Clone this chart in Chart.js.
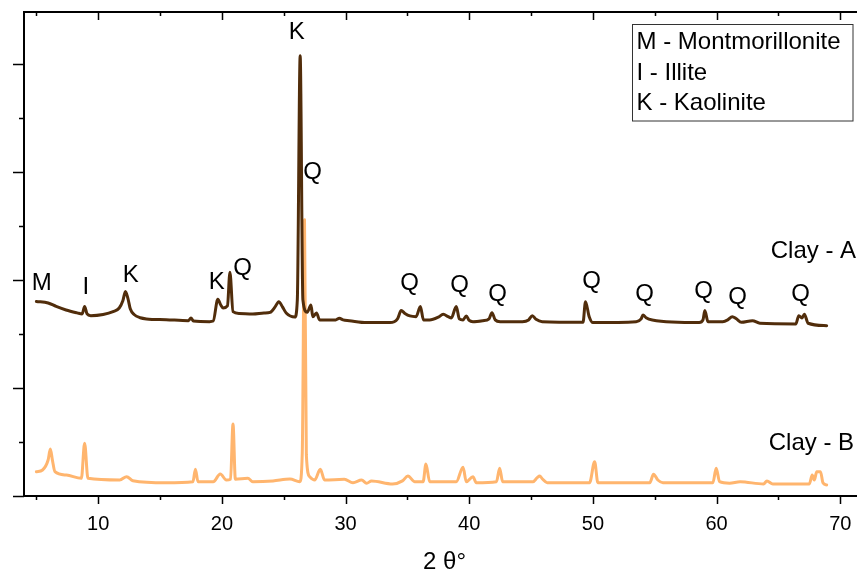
<!DOCTYPE html>
<html>
<head>
<meta charset="utf-8">
<script src="https://cdn.jsdelivr.net/npm/chart.js@4.4.1/dist/chart.umd.min.js"></script>
<style>
  html, body { margin: 0; padding: 0; background: #ffffff; overflow: hidden; }
  #wrap { position: relative; width: 868px; height: 574px; }
</style>
</head>
<body>
<div id="wrap"><canvas id="c"></canvas></div>
<script>
// ---- data (2θ in degrees, intensity in arbitrary offset units) ----
const clayA_x = [5.0,5.95,6.6,7.4,8.3,8.7,8.9,9.1,9.4,10.4,11.2,11.7,12.0,12.2,12.4,12.6,12.9,13.4,13.9,15.5,17.3,17.5,17.7,19.0,19.3,19.67,19.9,20.1,20.45,20.65,20.9,21.4,22.5,23.4,23.9,24.3,24.6,24.9,25.2,25.9,26.1,26.33,26.55,26.9,27.2,27.35,27.65,27.9,29.2,29.5,29.8,30.3,31.7,33.6,34.2,34.5,34.8,35.2,35.7,36.05,36.3,36.8,37.5,37.9,38.3,38.55,38.95,39.2,39.5,39.76,40.0,40.3,41.1,41.6,41.84,42.1,42.5,44.3,44.8,45.1,45.4,45.9,49.2,49.4,49.7,50.0,53.5,53.9,54.05,54.3,54.8,58.6,58.9,59.05,59.3,60.5,60.9,61.27,61.6,62.0,62.9,63.5,66.4,66.65,66.9,67.1,67.4,68.9];
const clayA_y = [1.80,1.787,1.755,1.722,1.695,1.685,1.753,1.685,1.669,1.68,1.706,1.74,1.81,1.892,1.83,1.73,1.68,1.65,1.639,1.632,1.623,1.648,1.62,1.614,1.62,1.821,1.77,1.741,1.76,2.07,1.706,1.69,1.685,1.694,1.70,1.75,1.799,1.75,1.694,1.657,1.815,4.074,1.815,1.70,1.769,1.66,1.694,1.63,1.63,1.645,1.63,1.623,1.605,1.605,1.64,1.716,1.69,1.667,1.66,1.753,1.63,1.63,1.655,1.682,1.66,1.648,1.753,1.64,1.63,1.667,1.625,1.614,1.623,1.64,1.697,1.63,1.614,1.614,1.63,1.669,1.635,1.614,1.608,1.799,1.66,1.605,1.614,1.64,1.676,1.65,1.63,1.605,1.63,1.716,1.614,1.614,1.63,1.66,1.64,1.608,1.623,1.599,1.593,1.669,1.648,1.682,1.599,1.577];

const clayB_x = [5.0,5.5,5.95,6.13,6.3,6.5,7.43,8.64,8.9,9.17,11.74,12.3,12.8,15.5,17.66,17.86,18.07,19.3,19.87,20.36,20.7,20.9,21.09,22.1,22.5,24.13,25.5,26.3,26.5,26.68,26.83,27.1,27.5,27.96,28.3,29.9,30.6,31.3,31.7,32.1,33.8,34.6,35.04,35.6,36.27,36.5,36.8,38.95,39.5,39.76,40.3,40.57,42.2,42.46,42.7,45.15,45.5,45.7,45.9,46.3,49.73,50.14,50.4,54.6,54.9,55.25,55.66,59.7,59.97,60.24,61.05,61.9,63.8,64.07,64.55,67.5,67.73,67.9,68.1,68.4,68.6,68.9];
const clayB_y = [0.225,0.241,0.333,0.435,0.33,0.225,0.194,0.164,0.488,0.164,0.148,0.179,0.142,0.123,0.132,0.247,0.132,0.132,0.204,0.148,0.155,0.667,0.155,0.164,0.132,0.139,0.157,0.132,0.398,2.556,0.380,0.179,0.148,0.247,0.148,0.155,0.123,0.148,0.118,0.139,0.111,0.14,0.185,0.132,0.132,0.296,0.132,0.132,0.266,0.132,0.179,0.123,0.132,0.256,0.132,0.132,0.17,0.185,0.16,0.123,0.123,0.318,0.123,0.123,0.201,0.148,0.123,0.123,0.256,0.132,0.118,0.132,0.111,0.139,0.111,0.111,0.194,0.148,0.225,0.225,0.123,0.102];

const seriesNames = ['Clay - A', 'Clay - B'];
const xTickValues = [5,10,15,20,25,30,35,40,45,50,55,60,65,70];
const xTickLabels = ['', '10', '', '20', '', '30', '', '40', '', '50', '', '60', '', '70'];
const yTickValues = [0,0.5,1,1.5,2,2.5,3,3.5,4];
const legendLines = ['M - Montmorillonite', 'I - Illite', 'K - Kaolinite'];
// phase labels: [text, 2θ, intensity]
const peakLabelText = ['M','I','K','K','Q','K','Q','Q','Q','Q','Q','Q','Q','Q','Q'];
const peakLabelX = [5.43,8.99,12.63,19.58,21.68,26.05,27.34,35.18,39.22,42.29,49.9,54.18,58.95,61.7,66.79];
const peakLabelY = [1.972,1.935,2.046,1.981,2.111,4.287,3.0,1.972,1.954,1.87,1.99,1.87,1.898,1.843,1.87];
const seriesLabelX = [71.28, 71.12];
const seriesLabelY = [2.26, 0.49];

const FONT = 'Liberation Sans, Arial, sans-serif';
const colors = ['#512d0b', '#ffb56e'];

const toPts = (xs, ys) => xs.map((x, i) => ({x: x, y: ys[i]}));

const frame = {
  id: 'frame',
  afterDraw(chart) {
    const ctx = chart.ctx, xs = chart.scales.x, ys = chart.scales.y, a = chart.chartArea;
    ctx.save();
    ctx.strokeStyle = '#000';
    ctx.lineWidth = 2;
    ctx.beginPath();
    ctx.moveTo(a.left - 1, a.top); ctx.lineTo(a.right, a.top);
    ctx.moveTo(a.right, a.top); ctx.lineTo(a.right, a.bottom);
    ctx.stroke();
    ctx.lineWidth = 1.5;
    ctx.beginPath();
    xTickValues.forEach((v, i) => {
      const px = Math.round(xs.getPixelForValue(v)) + 0.5;
      const major = xTickLabels[i] !== '';
      ctx.moveTo(px, a.bottom); ctx.lineTo(px, a.bottom + (major ? 8 : 4));
      ctx.moveTo(px, a.top); ctx.lineTo(px, a.top + (major ? 8 : 4));
    });
    yTickValues.forEach((v) => {
      const py = Math.round(ys.getPixelForValue(v)) + 0.5;
      const major = Number.isInteger(v);
      ctx.moveTo(a.left, py); ctx.lineTo(a.left - (major ? 11 : 5), py);
      ctx.moveTo(a.right, py); ctx.lineTo(a.right - (major ? 8 : 4), py);
    });
    ctx.stroke();

    ctx.fillStyle = '#000';
    ctx.font = '24px ' + FONT;
    ctx.textAlign = 'center';
    ctx.textBaseline = 'middle';
    peakLabelText.forEach((t, i) => {
      ctx.fillText(t, xs.getPixelForValue(peakLabelX[i]), ys.getPixelForValue(peakLabelY[i]));
    });
    ctx.textAlign = 'right';
    seriesNames.forEach((t, i) => {
      ctx.fillText(t, xs.getPixelForValue(seriesLabelX[i]), ys.getPixelForValue(seriesLabelY[i]));
    });

    const bx = a.right - 233, by = a.top + 12, bw = 220.5, bh = 96.5;
    ctx.fillStyle = '#fff';
    ctx.fillRect(bx, by, bw, bh);
    ctx.strokeStyle = '#333';
    ctx.lineWidth = 1;
    ctx.strokeRect(Math.round(bx) + 0.5, Math.round(by) + 0.5, bw, bh);
    ctx.fillStyle = '#000';
    ctx.textAlign = 'left';
    legendLines.forEach((t, i) => {
      ctx.fillText(t, bx + 4.5, by + 18.5 + i * 30.5);
    });
    ctx.restore();
  }
};

new Chart(document.getElementById('c'), {
  type: 'line',
  data: {
    datasets: [
      { label: seriesNames[0], data: toPts(clayA_x, clayA_y), borderColor: colors[0], borderWidth: 3, pointRadius: 0, cubicInterpolationMode: 'monotone', borderJoinStyle: 'round', borderCapStyle: 'round', fill: false },
      { label: seriesNames[1], data: toPts(clayB_x, clayB_y), borderColor: colors[1], borderWidth: 3, pointRadius: 0, cubicInterpolationMode: 'monotone', borderJoinStyle: 'round', borderCapStyle: 'round', fill: false }
    ]
  },
  options: {
    responsive: true,
    maintainAspectRatio: false,
    animation: false,
    layout: { padding: { top: 12, right: 3, left: 0, bottom: 0 } },
    plugins: { legend: { display: false }, tooltip: { enabled: false } },
    scales: {
      x: {
        type: 'linear', min: 4, max: 72,
        afterBuildTicks: s => { s.ticks = xTickValues.map(v => ({ value: v })); },
        afterFit: s => { s.height = 78; },
        grid: { display: false },
        border: { display: true, color: '#000', width: 2 },
        ticks: {
          color: '#000', font: { family: FONT, size: 20 }, padding: 8, maxRotation: 0, autoSkip: false,
          callback: (v, i) => xTickLabels[i]
        },
        title: { display: true, text: '2 θ°', color: '#000', font: { family: FONT, size: 24, lineHeight: 1 }, padding: { top: 0, bottom: 0 } }
      },
      y: {
        type: 'linear', min: 0, max: 4.48,
        afterFit: s => { s.width = 24; },
        grid: { display: false },
        border: { display: true, color: '#000', width: 2 },
        ticks: { display: false }
      }
    }
  },
  plugins: [frame]
});
</script>
</body>
</html>
